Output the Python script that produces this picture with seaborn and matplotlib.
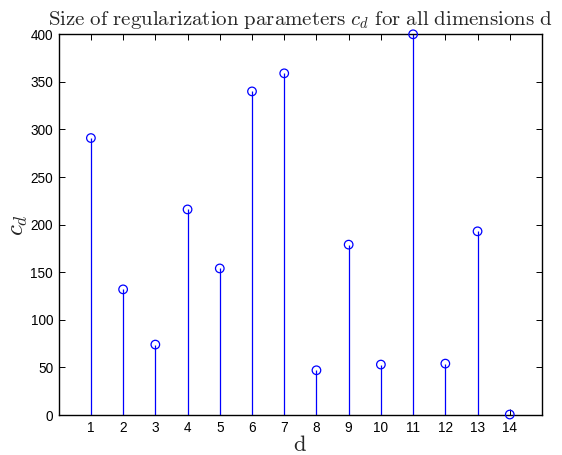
import matplotlib
matplotlib.use("Agg")
import matplotlib.pyplot as plt
import seaborn as sns
import pandas as pd

# Regularization parameter per dimension
dims = [1, 2, 3, 4, 5, 6, 7, 8, 9, 10, 11, 12, 13, 14]
c_values = [291, 132, 74, 216, 154, 340, 359, 47, 179, 53, 400, 54, 193, 0.5]
y_ticks = [0, 50, 100, 150, 200, 250, 300, 350, 400]

df = pd.DataFrame({"d": dims, "c": c_values})

sns.set_theme(style="ticks")
plt.rcParams["font.family"] = ["Liberation Sans", "DejaVu Sans"]
plt.rcParams["mathtext.fontset"] = "cm"

fig = plt.figure(figsize=(5.62, 4.55), dpi=100)
ax = fig.add_axes([0.1044, 0.0879, 0.8600, 0.8367])

stem_color = (0, 0, 1)
ax.vlines(df["d"], 0, df["c"], color=stem_color, linewidth=0.9, zorder=2)
sns.scatterplot(data=df, x="d", y="c", ax=ax, marker="o", s=38,
                facecolor="none", edgecolor=stem_color, linewidth=0.9,
                zorder=3, clip_on=False, legend=False)

ax.set_xlim(0, 15)
ax.set_ylim(0, 400)
ax.set_xticks(dims)
ax.set_yticks(y_ticks)
ax.tick_params(direction="in", length=4, width=0.7, top=True, right=True,
               labelsize=9.8, colors="black", pad=4)
for s in ax.spines.values():
    s.set_visible(True)
    s.set_color("black")
    s.set_linewidth(1.0)

ax.set_title(r"$\mathrm{Size\ of\ regularization\ parameters\ }c_d\mathrm{\ for\ all\ dimensions\ d}$",
             fontsize=15, pad=7)
ax.set_xlabel(r"$\mathrm{d}$", fontsize=16, labelpad=0)
ax.set_ylabel(r"$c_d$", fontsize=18, labelpad=0)

fig.savefig("out.png", dpi=100, facecolor="white")
